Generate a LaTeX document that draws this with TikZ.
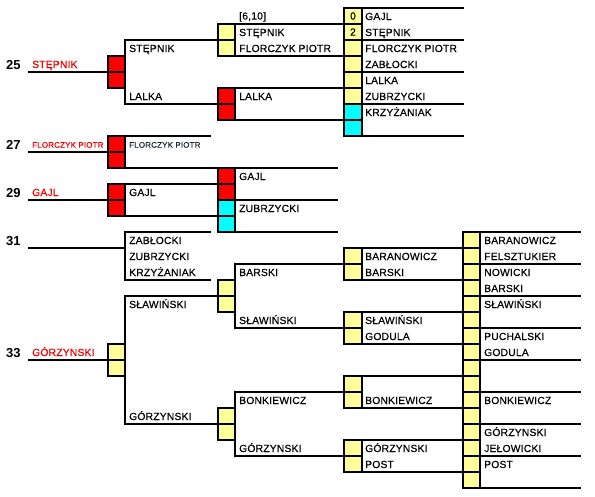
\documentclass[tikz,border=0pt]{standalone}
\usepackage{fontspec}
\setmainfont{Liberation Sans}
\newfontfamily\cellfont{Liberation Sans}[LetterSpace=2.0,FakeBold=0.35]
\usetikzlibrary{backgrounds}
\definecolor{boxred}{HTML}{FF0000}
\definecolor{boxyel}{HTML}{FFFF99}
\definecolor{boxcyan}{HTML}{00FFFF}
\definecolor{namered}{HTML}{F00000}
\definecolor{darktxt}{HTML}{1A2A33}
\newcommand\cellgroup[4]{\foreach \rw/\cl/\tx in {#4}{\node[cellsty, fill=\cl, minimum width=#3pt] (#1-\rw) at ({#2+#3/2},\rw+0.5) {\tx};}}
\begin{document}
\begin{tikzpicture}[x=1pt,y=-16pt,
  ln/.style={line width=1.8pt, line cap=rect},
  border/.style={line width=1.8pt},
  cellsty/.style={draw, line width=1.1pt, minimum height=16pt, inner sep=0pt, outer sep=0pt, font=\cellfont\fontsize{10.3}{12}\selectfont},
  txt/.style={anchor=base west, inner sep=0pt, font=\cellfont\fontsize{10.3}{12}\selectfont},
  smalltxt/.style={anchor=base west, inner sep=0pt, font=\cellfont\fontsize{8}{10}\selectfont},
  num/.style={anchor=base west, inner sep=0pt, font=\bfseries\fontsize{13}{15}\selectfont},
]
\useasboundingbox (0,-0.5) rectangle (595,30.5);

% ---------- boxes ----------
\cellgroup{a1}{108}{17}{3/boxred/{},4/boxred/{}}
\cellgroup{a2}{108}{17}{8/boxred/{},9/boxred/{}}
\cellgroup{a3}{108}{17}{11/boxred/{},12/boxred/{}}
\cellgroup{a5}{108}{17}{21/boxyel/{},22/boxyel/{}}
\cellgroup{b1}{218}{17}{1/boxyel/{},2/boxyel/{}}
\cellgroup{b2}{218}{17}{5/boxred/{},6/boxred/{}}
\cellgroup{b3}{218}{17}{10/boxred/{},11/boxred/{},12/boxcyan/{},13/boxcyan/{}}
\cellgroup{b4}{218}{17}{17/boxyel/{},18/boxyel/{}}
\cellgroup{b5}{218}{17}{25/boxyel/{},26/boxyel/{}}
\cellgroup{c1}{344}{18}{0/boxyel/0,1/boxyel/2,2/boxyel/{},3/boxyel/{},4/boxyel/{},5/boxyel/{},6/boxcyan/{},7/boxcyan/{}}
\cellgroup{c2}{344}{18}{15/boxyel/{},16/boxyel/{}}
\cellgroup{c3}{344}{18}{19/boxyel/{},20/boxyel/{}}
\cellgroup{c4}{344}{18}{23/boxyel/{},24/boxyel/{}}
\cellgroup{c5}{344}{18}{27/boxyel/{},28/boxyel/{}}
\cellgroup{d}{463}{17}{14/boxyel/{},15/boxyel/{},16/boxyel/{},17/boxyel/{},18/boxyel/{},19/boxyel/{},20/boxyel/{},21/boxyel/{},22/boxyel/{},23/boxyel/{},24/boxyel/{},25/boxyel/{},26/boxyel/{},27/boxyel/{},28/boxyel/{},29/boxyel/{}}

% outer borders of box groups
\draw[border] (a1-3.north west) rectangle (a1-4.south east);
\draw[border] (a2-8.north west) rectangle (a2-9.south east);
\draw[border] (a3-11.north west) rectangle (a3-12.south east);
\draw[border] (a5-21.north west) rectangle (a5-22.south east);
\draw[border] (b1-1.north west) rectangle (b1-2.south east);
\draw[border] (b2-5.north west) rectangle (b2-6.south east);
\draw[border] (b3-10.north west) rectangle (b3-13.south east);
\draw[border] (b4-17.north west) rectangle (b4-18.south east);
\draw[border] (b5-25.north west) rectangle (b5-26.south east);
\draw[border] (c1-0.north west) rectangle (c1-7.south east);
\draw[border] (c2-15.north west) rectangle (c2-16.south east);
\draw[border] (c3-19.north west) rectangle (c3-20.south east);
\draw[border] (c4-23.north west) rectangle (c4-24.south east);
\draw[border] (c5-27.north west) rectangle (c5-28.south east);
\draw[border] (d-14.north west) rectangle (d-29.south east);

% free line ends
\coordinate (s25) at (29,4);
\coordinate (s27) at (29,9);
\coordinate (s29) at (29,12);
\coordinate (s31) at (29,15);
\coordinate (s33) at (29,22);

% ---------- connectors ----------
\begin{scope}[on background layer]
\fill[white] (0,-0.5) rectangle (595,30.5);
% column 0
\draw[ln] (s25) -- (a1-3.south west);
\draw[ln] (s27) -- (a2-8.south west);
\draw[ln] (s29) -- (a3-11.south west);
\draw[ln] (s31) -- (125,15);
\draw[ln] (s33) -- (a5-21.south west);
% column A
\draw[ln] (b1-1.south west) -- (125,2) -- (125,6) -- (b2-5.south west);
\draw[ln] (a2-8.north east) -- (210,8);
\draw[ln] (a2-9.south east) -- (337,10);
\draw[ln] (a3-11.north east) -- (b3-10.south west);
\draw[ln] (a3-12.south east) -- (b3-12.south west);
\draw[ln] (210,14) -- (125,14) -- (125,17) -- (210,17);
\draw[ln] (b4-17.south west) -- (125,18) -- (125,26) -- (b5-25.south west);
% column B
\draw[ln] (b1-1.north east) -- (c1-0.south west);
\draw[ln] (b1-2.south east) -- (c1-2.south west);
\draw[ln] (b2-5.north east) -- (c1-4.south west);
\draw[ln] (b2-6.south east) -- (c1-6.south west);
\draw[ln] (b3-11.south east) -- (337,12);
\draw[ln] (b3-13.south east) -- (337,14);
\draw[ln] (c2-15.south west) -- (235,16) -- (235,20) -- (c3-19.south west);
\draw[ln] (c4-23.south west) -- (235,24) -- (235,28) -- (c5-27.south west);
% column C
\foreach \k in {0,2,4,6,8} \draw[ln] (362,\k) -- (463,\k);
\draw[ln] (c2-15.north east) -- (d-14.south west);
\draw[ln] (c2-16.south east) -- (d-16.south west);
\draw[ln] (c3-19.north east) -- (d-18.south west);
\draw[ln] (c3-20.south east) -- (d-20.south west);
\draw[ln] (c4-23.north east) -- (d-22.south west);
\draw[ln] (c4-24.south east) -- (d-24.south west);
\draw[ln] (c5-27.north east) -- (d-26.south west);
\draw[ln] (c5-28.south east) -- (d-28.south west);
% column D
\foreach \k in {14,16,...,30} \draw[ln] (480,\k) -- (580,\k);
\end{scope}

% ---------- numbers and seeded names ----------
\node[num] (n25) at (6,3.85) {25};
\node[num] (n27) at (6,8.85) {27};
\node[num] (n29) at (6,11.85) {29};
\node[num] (n31) at (6,14.85) {31};
\node[num] (n33) at (6,21.85) {33};
\node[txt, text=namered] (p25) at (32,3.75) {STĘPNIK};
\node[smalltxt, text=namered] (p27) at (32,8.73) {FLORCZYK PIOTR};
\node[txt, text=namered] (p29) at (32,11.75) {GAJL};
\node[txt, text=namered] (p33) at (32,21.75) {GÓRZYNSKI};

% ---------- column A texts ----------
\node[txt] (ta2) at (129,2.75) {STĘPNIK};
\node[txt] (ta5) at (129,5.75) {LALKA};
\node[smalltxt, text=darktxt] (ta8) at (129,8.73) {FLORCZYK PIOTR};
\node[txt] (ta11) at (129,11.75) {GAJL};
\node[txt] (ta14) at (129,14.75) {ZABŁOCKI};
\node[txt] (ta15) at (129,15.75) {ZUBRZYCKI};
\node[txt] (ta16) at (129,16.75) {KRZYŻANIAK};
\node[txt] (ta18) at (129,18.75) {SŁAWIŃSKI};
\node[txt] (ta25) at (129,25.75) {GÓRZYNSKI};

% ---------- column B texts ----------
\node[txt] (tb0) at (239,0.72) {[6,10]};
\node[txt] (tb1) at (239,1.75) {STĘPNIK};
\node[txt] (tb2) at (239,2.75) {FLORCZYK PIOTR};
\node[txt] (tb5) at (239,5.75) {LALKA};
\node[txt] (tb10) at (239,10.75) {GAJL};
\node[txt] (tb12) at (239,12.75) {ZUBRZYCKI};
\node[txt] (tb16) at (239,16.75) {BARSKI};
\node[txt] (tb19) at (239,19.75) {SŁAWIŃSKI};
\node[txt] (tb24) at (239,24.75) {BONKIEWICZ};
\node[txt] (tb27) at (239,27.75) {GÓRZYNSKI};

% ---------- column C texts ----------
\node[txt] (tc0) at (365,0.75) {GAJL};
\node[txt] (tc1) at (365,1.75) {STĘPNIK};
\node[txt] (tc2) at (365,2.75) {FLORCZYK PIOTR};
\node[txt] (tc3) at (365,3.75) {ZABŁOCKI};
\node[txt] (tc4) at (365,4.75) {LALKA};
\node[txt] (tc5) at (365,5.75) {ZUBRZYCKI};
\node[txt] (tc6) at (365,6.75) {KRZYŻANIAK};
\node[txt] (tc15) at (365,15.75) {BARANOWICZ};
\node[txt] (tc16) at (365,16.75) {BARSKI};
\node[txt] (tc19) at (365,19.75) {SŁAWIŃSKI};
\node[txt] (tc20) at (365,20.75) {GODULA};
\node[txt] (tc24) at (365,24.75) {BONKIEWICZ};
\node[txt] (tc27) at (365,27.75) {GÓRZYNSKI};
\node[txt] (tc28) at (365,28.75) {POST};

% ---------- column D texts ----------
\node[txt] (td14) at (484,14.75) {BARANOWICZ};
\node[txt] (td15) at (484,15.75) {FELSZTUKIER};
\node[txt] (td16) at (484,16.75) {NOWICKI};
\node[txt] (td17) at (484,17.75) {BARSKI};
\node[txt] (td18) at (484,18.75) {SŁAWIŃSKI};
\node[txt] (td20) at (484,20.75) {PUCHALSKI};
\node[txt] (td21) at (484,21.75) {GODULA};
\node[txt] (td24) at (484,24.75) {BONKIEWICZ};
\node[txt] (td26) at (484,26.75) {GÓRZYNSKI};
\node[txt] (td27) at (484,27.75) {JEŁOWICKI};
\node[txt] (td28) at (484,28.75) {POST};
\end{tikzpicture}
\end{document}
